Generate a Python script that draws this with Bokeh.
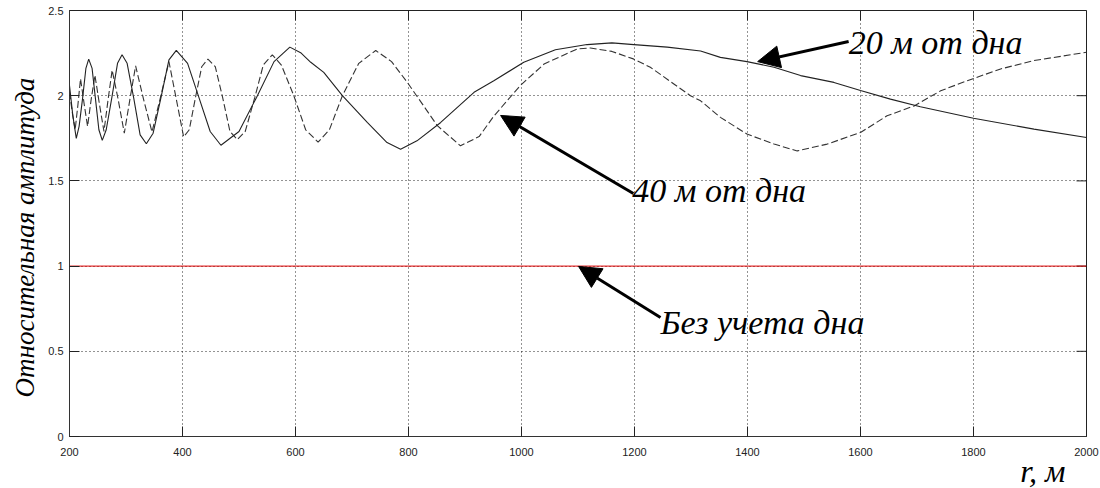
import math
from bokeh.plotting import figure
from bokeh.models import Range1d, FixedTicker, Label, Arrow, NormalHead, Title
from bokeh.embed import file_html
from bokeh.resources import INLINE

# ---- data ----
r_20 = [200, 206, 212, 217, 223, 229, 234, 240, 246, 252, 258, 265, 275, 285, 293, 302, 314,
        325, 336, 348, 362, 376, 389, 409, 429, 449, 468, 500, 531, 562, 590, 610, 627, 650,
        683, 727, 762, 786, 815, 857, 916, 951, 1004, 1060, 1116, 1160, 1199, 1258, 1317,
        1352, 1399, 1447, 1494, 1553, 1600, 1653, 1706, 1800, 1907, 2000]
amp_20 = [2.06, 1.88, 1.75, 1.82, 1.98, 2.16, 2.215, 2.16, 1.98, 1.80, 1.738, 1.80, 1.99, 2.19,
          2.24, 2.19, 1.98, 1.77, 1.718, 1.78, 1.99, 2.21, 2.266, 2.19, 1.99, 1.79, 1.709, 1.79,
          1.99, 2.20, 2.285, 2.25, 2.196, 2.137, 2.0, 1.843, 1.725, 1.686, 1.735, 1.843, 2.02,
          2.088, 2.196, 2.27, 2.30, 2.31, 2.30, 2.285, 2.262, 2.225, 2.20, 2.167, 2.118, 2.078,
          2.03, 1.98, 1.935, 1.868, 1.804, 1.755]

r_40 = [200, 205, 210, 215, 219.5, 226, 232, 238, 245, 253, 261, 268, 275.5, 286, 297, 307,
        317, 331, 346, 361, 376, 389, 402, 412, 423, 434, 445, 458, 471, 484, 497, 511, 528,
        543, 559, 575, 597, 618, 640, 660, 683, 712, 742, 770, 798, 851, 892, 925, 951, 998,
        1040, 1099, 1122, 1160, 1198, 1228, 1299, 1317, 1352, 1399, 1447, 1488, 1541, 1600,
        1647, 1695, 1742, 1789, 1848, 1907, 2000]
amp_40 = [2.02, 1.90, 1.80, 1.95, 2.10, 1.95, 1.82, 1.97, 2.12, 1.95, 1.79, 1.97, 2.15, 1.98,
          1.78, 1.98, 2.175, 1.98, 1.787, 1.99, 2.20, 1.98, 1.758, 1.80, 1.99, 2.17, 2.215,
          2.17, 1.99, 1.79, 1.742, 1.79, 1.99, 2.18, 2.24, 2.18, 2.0, 1.80, 1.728, 1.80, 2.0,
          2.19, 2.265, 2.20, 2.078, 1.824, 1.706, 1.76, 1.88, 2.06, 2.186, 2.275, 2.28, 2.26,
          2.216, 2.167, 2.0, 1.97, 1.873, 1.775, 1.716, 1.676, 1.716, 1.784, 1.882, 1.94,
          2.029, 2.088, 2.157, 2.206, 2.255]

r_free = [200, 2000]
amp_free = [1.0, 1.0]

x_ticks = [200, 400, 600, 800, 1000, 1200, 1400, 1600, 1800, 2000]
y_ticks = [0, 0.5, 1, 1.5, 2, 2.5]
y_tick_labels = ["0", "0.5", "1", "1.5", "2", "2.5"]

y_title = "Относительная амплитуда"
x_title = "r, м"
note_20 = "20 м от дна"
note_40 = "40 м от дна"
note_free = "Без учета дна"

# annotation anchors (data units)
note_20_pos = (1579, 2.312)
note_40_pos = (1196, 1.444)
note_free_pos = (1246, 0.669)
arrow_20 = (1579, 2.318, 1418, 2.20)
arrow_40 = (1198, 1.426, 963, 1.884)
arrow_free = (1246, 0.698, 1101, 0.998)

SERIF = "Liberation Serif"
SANS = "Liberation Sans"

x_lo, x_hi = x_ticks[0], x_ticks[-1]
y_lo, y_hi = y_ticks[0], y_ticks[-1]

p = figure(width=1100, height=488, output_backend="svg", toolbar_location=None,
           x_range=Range1d(x_lo, x_hi), y_range=Range1d(y_lo, y_hi),
           min_border_left=69, min_border_right=14, min_border_top=10, min_border_bottom=52,
           background_fill_color="white", border_fill_color="white")
p.outline_line_color = "#222222"
p.outline_line_width = 1

xt = FixedTicker(ticks=x_ticks)
yt = FixedTicker(ticks=y_ticks)

for ax in (p.xaxis[0], p.yaxis[0]):
    ax.axis_line_color = "#333333"
    ax.major_tick_line_color = "#222222"
    ax.major_tick_in = 10
    ax.major_tick_out = 0
    ax.minor_tick_line_color = None
    ax.major_label_text_font = SANS
    ax.major_label_text_color = "#222222"
    ax.major_label_text_font_size = "11px"

p.xaxis.ticker = xt
p.yaxis.ticker = yt
p.xaxis.major_label_standoff = 11
p.yaxis.major_label_standoff = 6
p.yaxis.major_label_overrides = {float(v): s for v, s in zip(y_ticks, y_tick_labels)}

for g in (p.xgrid, p.ygrid):
    g.grid_line_color = "#000000"
    g.grid_line_dash = "1 3"
    g.grid_line_width = 1
    g.grid_line_alpha = 0.85
p.xgrid.ticker = xt
p.ygrid.ticker = yt

# inward ticks on the top and right edges of the box
p.ray(x=x_ticks, y=[y_hi] * len(x_ticks), length=10, length_units="screen",
      angle=-math.pi / 2, line_color="#222222", line_width=1)
p.ray(x=[x_hi] * len(y_ticks), y=y_ticks, length=10, length_units="screen",
      angle=math.pi, line_color="#222222", line_width=1)

# curves
p.line(r_free, amp_free, line_color="#dd0000", line_width=1)
p.line(r_40, amp_40, line_color="#333333", line_width=1.1, line_dash="7 3")
p.line(r_20, amp_20, line_color="#222222", line_width=1.1)

# arrows
for (xs, ys, xe, ye) in (arrow_20, arrow_40, arrow_free):
    p.add_layout(Arrow(x_start=xs, y_start=ys, x_end=xe, y_end=ye, line_width=3,
                       line_color="black",
                       end=NormalHead(size=22, fill_color="black", line_color="black",
                                      line_width=1)))

# annotation texts
for txt, (tx, ty) in ((note_20, note_20_pos), (note_40, note_40_pos), (note_free, note_free_pos)):
    p.add_layout(Label(x=tx, y=ty, text=txt, text_font=SERIF, text_font_style="italic",
                       text_font_size="34px", text_align="left", text_baseline="middle",
                       text_color="black"))

# axis titles
p.add_layout(Title(text=y_title, align="left", offset=39, standoff=12,
                   text_font=SERIF, text_font_style="italic", text_font_size="27px",
                   text_color="black"), "left")
p.add_layout(Title(text=x_title, align="right", offset=21, standoff=-15,
                   text_font=SERIF, text_font_style="italic", text_font_size="32px",
                   text_color="black"), "below")

open("out.html", "w").write(file_html(p, INLINE))
